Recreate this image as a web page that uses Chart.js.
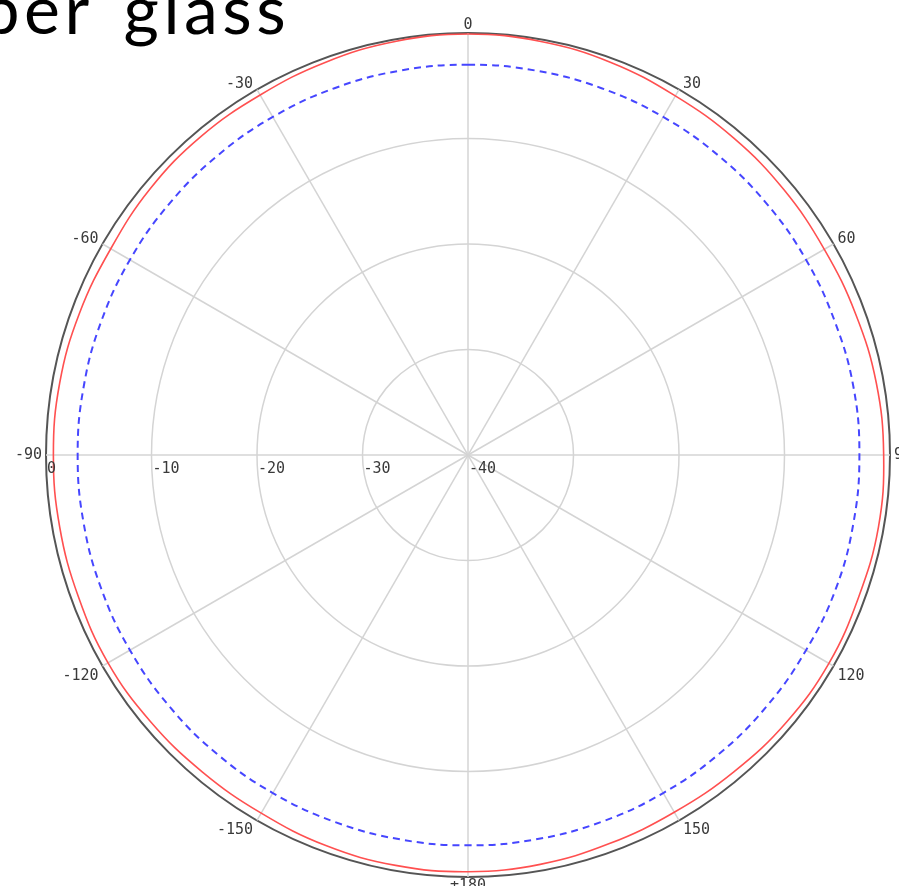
<!DOCTYPE html>
<html>
<head>
<meta charset="utf-8">
<script src="https://cdn.jsdelivr.net/npm/chart.js@4.4.1/dist/chart.umd.min.js"></script>
<style>
  html, body { margin: 0; padding: 0; background: #fff; overflow: hidden; }
  #wrap { position: absolute; left: 0; top: 0; width: 899px; height: 886px; }
</style>
</head>
<body>
<div id="wrap"><canvas id="polar"></canvas></div>
<script>
// ----------------------------------------
// data (angle in degrees, clockwise from top; level in dB)
// ----------------------------------------
const angles = [0, 10, 20, 30, 40, 50, 60, 70, 80, 90, 100, 110, 120, 130, 140, 150, 160, 170,
                180, 190, 200, 210, 220, 230, 240, 250, 260, 270, 280, 290, 300, 310, 320, 330, 340, 350];

const measured = [-0.1, -0.2, -0.4, -0.7, -0.8, -0.9, -1.0, -0.9, -0.7, -0.6, -0.5, -0.6,
                  -0.5, -0.6, -0.8, -0.9, -0.8, -0.6, -0.5, -0.5, -0.6, -0.8, -0.8, -0.7,
                  -0.6, -0.7, -0.7, -0.7, -0.7, -0.8, -0.9, -0.7, -0.6, -0.6, -0.4, -0.2];

const reference = [-3.0, -3.0, -3.0, -3.0, -3.0, -3.0, -3.0, -3.0, -2.9, -2.9, -2.9, -2.9,
                   -3.0, -3.0, -3.0, -3.0, -3.0, -3.0, -3.0, -3.0, -3.0, -3.0, -3.0, -3.0,
                   -3.0, -3.0, -3.0, -3.0, -3.0, -3.0, -3.0, -3.0, -3.0, -3.0, -3.0, -3.0];

const levelTicks = [0, -10, -20, -30, -40];
const levelTickLabels = ["0", "-10", "-20", "-30", "-40"];

const spokeAngles = [0, 30, 60, 90, 120, 150, 180, 210, 240, 270, 300, 330];
const spokeLabels = ["0", "30", "60", "90", "120", "150", "\u00b1180", "-150", "-120", "-90", "-60", "-30"];

const titleText = "ber glass";

// ----------------------------------------
// labels drawn around the dial
// ----------------------------------------
const dialLabels = {
    id: "dialLabels",
    afterDraw(chart) {
        const ctx = chart.ctx;
        const r = chart.scales.r;
        ctx.save();
        ctx.fillStyle = "#3a3a3a";
        ctx.font = "15px 'DejaVu Sans Mono'";

        // level labels along the left horizontal spoke
        ctx.textAlign = "left";
        ctx.textBaseline = "middle";
        levelTicks.forEach((v, i) => {
            const x = r.xCenter - r.getDistanceFromCenterForValue(v) + 1;
            ctx.fillText(levelTickLabels[i], x, r.yCenter + 14);
        });

        // angle labels at the spoke ends
        spokeAngles.forEach((a, i) => {
            const p = r.getPointPosition(angles.indexOf(a), r.drawingArea);
            let x = p.x, y = p.y;
            if (a === 0) {
                ctx.textAlign = "center"; ctx.textBaseline = "bottom";
            } else if (a === 180) {
                ctx.textAlign = "center"; ctx.textBaseline = "top"; y += 2;
            } else {
                ctx.textBaseline = "middle";
                ctx.textAlign = a < 180 ? "left" : "right";
                x += a < 180 ? 4 : -4;
                if (a === 90 || a === 270) y += 0;
                else if (a < 90 || a > 270) y -= 5;
                else y += 10;
            }
            ctx.fillText(spokeLabels[i], x, y);
        });

        // slide title fragment
        ctx.fillStyle = "#000";
        ctx.font = "68px Lato";
        ctx.letterSpacing = "4.5px";
        ctx.wordSpacing = "8px";
        ctx.textAlign = "left";
        ctx.textBaseline = "alphabetic";
        const bw = ctx.measureText("b").width;
        ctx.fillText(titleText, 24 - bw, 34);
        ctx.restore();
    }
};

new Chart(document.getElementById("polar"), {
    type: "radar",
    data: {
        labels: angles,
        datasets: [
            {
                data: measured,
                borderColor: "rgb(255, 80, 80)",
                borderWidth: 1.6,
                pointRadius: 0,
                tension: 0.4,
                fill: false
            },
            {
                data: reference,
                borderColor: "rgb(70, 70, 255)",
                borderWidth: 2,
                borderDash: [7, 5],
                pointRadius: 0,
                tension: 0.4,
                fill: false
            }
        ]
    },
    options: {
        responsive: true,
        maintainAspectRatio: false,
        animation: false,
        layout: { padding: { left: 46, right: 9, top: 33, bottom: 9 } },
        plugins: { legend: { display: false }, tooltip: { enabled: false } },
        scales: {
            r: {
                min: -40,
                max: 0,
                ticks: { display: false, stepSize: 10 },
                pointLabels: { display: false },
                grid: {
                    circular: true,
                    color: c => c.tick && c.tick.value === 0 ? "#555" : "#d4d4d4",
                    lineWidth: c => c.tick && c.tick.value === 0 ? 2 : 1.5
                },
                angleLines: {
                    color: "#d4d4d4",
                    lineWidth: c => c.index % 3 === 0 ? 1.5 : 0
                }
            }
        }
    },
    plugins: [dialLabels]
});
</script>
</body>
</html>
